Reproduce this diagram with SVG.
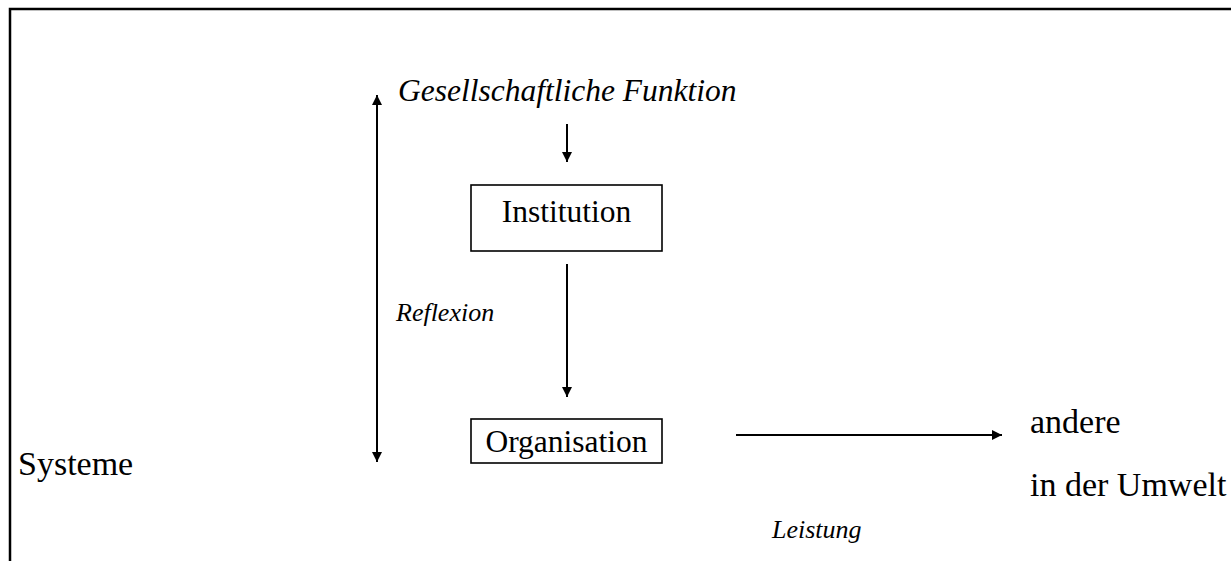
<svg xmlns="http://www.w3.org/2000/svg" width="1231" height="561" viewBox="0 0 1231 561">
  <style>
    .frame { fill: none; stroke: #000; stroke-width: 2.5; }
    .box { fill: #fff; stroke: #000; stroke-width: 1.6; }
    .edge { fill: none; stroke: #000; stroke-width: 2; }
    .big { font-family: "Liberation Serif", "Times New Roman", serif; font-size: 31.5px; fill: #000; }
    .env { font-size: 34px; }
    .small { font-family: "Liberation Serif", "Times New Roman", serif; font-size: 26px; font-style: italic; fill: #000; }
    .it { font-style: italic; }
  </style>
  <defs>
    <marker id="head" viewBox="0 0 10 10" refX="10" refY="5" markerWidth="10" markerHeight="10" markerUnits="userSpaceOnUse" orient="auto-start-reverse">
      <path d="M0,0 L10,5 L0,10 Z" fill="#000"/>
    </marker>
  </defs>

  <rect width="1231" height="561" fill="#fff"/>

  <!-- outer frame: top and left edges only -->
  <path class="frame" d="M10,561 L10,9 L1231,9"/>

  <g id="funktion">
    <text class="big it" x="398" y="101">Gesellschaftliche Funktion</text>
  </g>

  <g id="institution">
    <rect class="box" x="471" y="185" width="191" height="66"/>
    <text class="big" x="566.5" y="222" text-anchor="middle">Institution</text>
  </g>

  <g id="organisation">
    <rect class="box" x="471" y="419" width="191" height="44"/>
    <text class="big" x="566.5" y="452" text-anchor="middle">Organisation</text>
  </g>

  <g id="systeme">
    <text class="big env" x="18" y="475">Systeme</text>
  </g>

  <g id="umwelt">
    <text class="big env" x="1030" y="433">andere</text>
    <text class="big env" x="1030" y="496">in der Umwelt</text>
  </g>

  <g id="labels">
    <text class="small" x="396" y="321">Reflexion</text>
    <text class="small" x="772" y="538">Leistung</text>
  </g>

  <g id="connectors">
    <!-- Reflexion: two-headed vertical arrow -->
    <line class="edge" x1="377" y1="95" x2="377" y2="462" marker-start="url(#head)" marker-end="url(#head)"/>
    <!-- Funktion to Institution -->
    <line class="edge" x1="567" y1="124" x2="567" y2="162" marker-end="url(#head)"/>
    <!-- Institution to Organisation -->
    <line class="edge" x1="567" y1="264" x2="567" y2="397" marker-end="url(#head)"/>
    <!-- Leistung to the environment -->
    <line class="edge" x1="736" y1="435" x2="1002" y2="435" marker-end="url(#head)"/>
  </g>
</svg>
